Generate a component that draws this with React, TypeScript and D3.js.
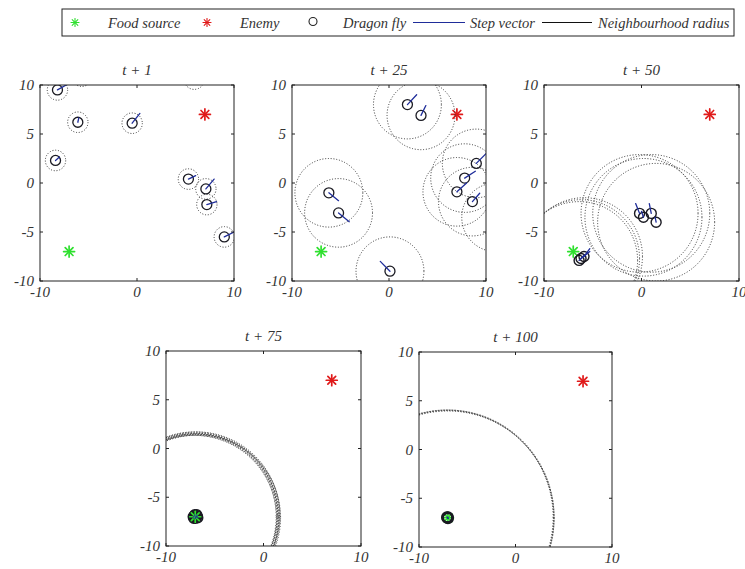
import React from 'react';
import * as d3 from 'd3';

// ---------- data ----------
const panelTitles = ['t + 1', 't + 25', 't + 50', 't + 75', 't + 100'];
const xTickValues = [-10, 0, 10];
const yTickValues = [-10, -5, 0, 5, 10];
const foodSource: [number, number] = [-7, -7];
const enemy: [number, number] = [7, 7];
const neighbourhoodRadius = [1.05, 3.5, 6, 8.5, 11];
const legendLabels = ['Food source', 'Enemy', 'Dragon fly', 'Step vector', 'Neighbourhood radius'];

// [x, y, stepX, stepY]
const dragonfliesT1: number[][] = [
  [-8.2, 9.5, 0.9, 0.5],
  [-6.1, 6.2, 0.1, 0.45],
  [-0.5, 6.1, 0.8, 1.0],
  [-8.4, 2.3, 0.4, 0.35],
  [5.3, 0.4, 0.75, 0.35],
  [7.1, -0.6, 0.85, 1.0],
  [7.2, -2.2, 1.0, 0.3],
  [9.0, -5.5, 1.0, 0.5],
  [-5.7, 10.9, 0.5, 0.5],
  [5.9, 10.6, 0.5, 0.5],
];
const dragonfliesT25: number[][] = [
  [1.9, 8.0, 0.95, 1.0],
  [3.3, 6.9, 0.5, 1.0],
  [9.0, 2.0, 1.0, 1.0],
  [7.8, 0.5, 1.1, 0.7],
  [7.0, -0.9, 1.0, 0.9],
  [8.6, -1.9, 0.75, 0.85],
  [-6.2, -1.0, 1.0, -0.8],
  [-5.2, -3.05, 1.1, -0.9],
  [0.1, -9.0, -1.0, 1.0],
  [11.0, -3.5, 0.8, 0.8],
];
const dragonfliesT50: number[][] = [
  [-0.2, -3.1, -0.4, 1.0],
  [0.2, -3.5, -0.2, 0.6],
  [1.0, -3.1, -0.2, 1.0],
  [1.5, -4.0, -0.1, 0.5],
  [-6.2, -7.7, 0.9, 0.7],
  [-5.9, -7.5, 0.6, 0.8],
  [-6.4, -7.9, 0.5, 0.5],
];
const dragonfliesT75: number[][] = [
  [-7.1, -6.9, 0.05, 0.0],
  [-6.9, -7.0, 0.0, 0.05],
  [-7.0, -7.15, 0.05, 0.05],
  [-6.8, -6.95, 0.0, 0.0],
  [-7.05, -6.8, 0.0, 0.0],
  [-6.95, -7.05, 0.0, 0.0],
  [-7.2, -7.0, 0.0, 0.0],
  [-6.85, -6.8, 0.0, 0.0],
  [-7.15, -7.15, 0.0, 0.0],
  [-6.75, -7.1, 0.0, 0.0],
];
const dragonfliesT100: number[][] = [
  [-7.05, -7.0, 0.08, -0.08],
  [-7.0, -7.05, 0.0, 0.0],
  [-7.1, -6.95, 0.0, 0.0],
  [-7.0, -6.95, 0.0, 0.0],
];
const panelFlies = [dragonfliesT1, dragonfliesT25, dragonfliesT50, dragonfliesT75, dragonfliesT100];

// ---------- layout ----------
const boxes = [
  { x: 40, y: 85, w: 194, h: 196 },
  { x: 292, y: 85, w: 194, h: 196 },
  { x: 544, y: 85, w: 195, h: 196 },
  { x: 166, y: 351, w: 195, h: 195 },
  { x: 419, y: 352, w: 193, h: 195 },
];
const markerStroke = [1.3, 1.3, 1.4, 1.6, 2.0];
const foodOnTop = [false, false, false, true, false];

const FONT = '"Liberation Serif", "DejaVu Serif", serif';
const TEXT_COLOR = '#333';
const BLUE = '#1f2d9a';
const GREEN = '#2fe02f';
const RED = '#e01a1a';

function Asterisk({ cx, cy, size, color, width }: { cx: number; cy: number; size: number; color: string; width: number }) {
  const angles = [0, 45, 90, 135];
  return (
    <g stroke={color} strokeWidth={width} strokeLinecap="round">
      {angles.map((a) => {
        const r = (a * Math.PI) / 180;
        const dx = Math.cos(r) * size;
        const dy = Math.sin(r) * size;
        return <line key={a} x1={cx - dx} y1={cy - dy} x2={cx + dx} y2={cy + dy} />;
      })}
    </g>
  );
}

function Panel({ idx }: { idx: number }) {
  const box = boxes[idx];
  const flies = panelFlies[idx];
  const radius = neighbourhoodRadius[idx];
  const x = d3.scaleLinear().domain([-10, 10]).range([box.x, box.x + box.w]);
  const y = d3.scaleLinear().domain([-10, 10]).range([box.y + box.h, box.y]);
  const rx = Math.abs(x(radius) - x(0));
  const ry = Math.abs(y(radius) - y(0));
  const clipId = `clip-${idx}`;
  const food = <Asterisk cx={x(foodSource[0])} cy={y(foodSource[1])} size={5.5} color={GREEN} width={1.7} />;
  return (
    <g>
      <defs>
        <clipPath id={clipId}>
          <rect x={box.x} y={box.y} width={box.w} height={box.h} />
        </clipPath>
      </defs>
      <rect x={box.x} y={box.y} width={box.w} height={box.h} fill="#fff" />
      <g clipPath={`url(#${clipId})`}>
        {!foodOnTop[idx] && food}
        <Asterisk cx={x(enemy[0])} cy={y(enemy[1])} size={5.5} color={RED} width={1.7} />
        {flies.map((f, i) => (
          <ellipse
            key={`n${i}`}
            cx={x(f[0])}
            cy={y(f[1])}
            rx={rx}
            ry={ry}
            fill="none"
            stroke="#333"
            strokeWidth={1}
            strokeDasharray="1 1.8"
          />
        ))}
        {flies.map((f, i) => (
          <circle key={`d${i}`} cx={x(f[0])} cy={y(f[1])} r={5} fill="none" stroke="#1a1a22" strokeWidth={markerStroke[idx]} />
        ))}
        {foodOnTop[idx] && food}
        {flies.map((f, i) => (
          <line
            key={`s${i}`}
            x1={x(f[0])}
            y1={y(f[1])}
            x2={x(f[0] + f[2])}
            y2={y(f[1] + f[3])}
            stroke={BLUE}
            strokeWidth={1.3}
            strokeLinecap="round"
          />
        ))}
      </g>
      <rect x={box.x} y={box.y} width={box.w} height={box.h} fill="none" stroke="#222" strokeWidth={1} />
      {xTickValues.map((t) => (
        <g key={`xt${t}`}>
          <line x1={x(t)} x2={x(t)} y1={box.y + box.h} y2={box.y + box.h - 3} stroke="#222" />
          <line x1={x(t)} x2={x(t)} y1={box.y} y2={box.y + 3} stroke="#222" />
          <text x={x(t)} y={box.y + box.h + 16} textAnchor="middle" fontFamily={FONT} fontStyle="italic" fontSize={15} fill={TEXT_COLOR}>
            {t}
          </text>
        </g>
      ))}
      {yTickValues.map((t) => (
        <g key={`yt${t}`}>
          <line x1={box.x} x2={box.x + 3} y1={y(t)} y2={y(t)} stroke="#222" />
          <line x1={box.x + box.w} x2={box.x + box.w - 3} y1={y(t)} y2={y(t)} stroke="#222" />
          <text x={box.x - 6} y={y(t) + 5} textAnchor="end" fontFamily={FONT} fontStyle="italic" fontSize={15} fill={TEXT_COLOR}>
            {t}
          </text>
        </g>
      ))}
      <text x={box.x + box.w / 2} y={box.y - 10} textAnchor="middle" fontFamily={FONT} fontStyle="italic" fontSize={15} fill={TEXT_COLOR}>
        {panelTitles[idx]}
      </text>
    </g>
  );
}

function Legend() {
  const top = 9;
  const h = 27;
  const cy = top + h / 2;
  const ty = cy + 5;
  const ts = { fontFamily: FONT, fontStyle: 'italic' as const, fontSize: 14.5, fill: TEXT_COLOR };
  return (
    <g>
      <rect x={62} y={top} width={672} height={h} fill="#fff" stroke="#222" strokeWidth={1} />
      <Asterisk cx={75} cy={cy} size={4} color={GREEN} width={1.1} />
      <text x={108} y={ty} {...ts}>{legendLabels[0]}</text>
      <Asterisk cx={207} cy={cy} size={4} color={RED} width={1.1} />
      <text x={240} y={ty} {...ts}>{legendLabels[1]}</text>
      <circle cx={313} cy={cy - 1} r={4} fill="none" stroke="#222" strokeWidth={1.1} />
      <text x={343} y={ty} {...ts}>{legendLabels[2]}</text>
      <line x1={413} x2={465} y1={cy} y2={cy} stroke={BLUE} strokeWidth={1.2} />
      <text x={470} y={ty} {...ts}>{legendLabels[3]}</text>
      <line x1={542} x2={592} y1={cy} y2={cy} stroke="#111" strokeWidth={1.2} />
      <text x={598} y={ty} {...ts}>{legendLabels[4]}</text>
    </g>
  );
}

export default function App() {
  return (
    <svg width={745} height={569} style={{ position: 'absolute', left: 0, top: 0, background: '#fff' }}>
      <rect x={0} y={0} width={745} height={569} fill="#fff" />
      <Legend />
      {panelTitles.map((_, i) => (
        <Panel key={i} idx={i} />
      ))}
    </svg>
  );
}
